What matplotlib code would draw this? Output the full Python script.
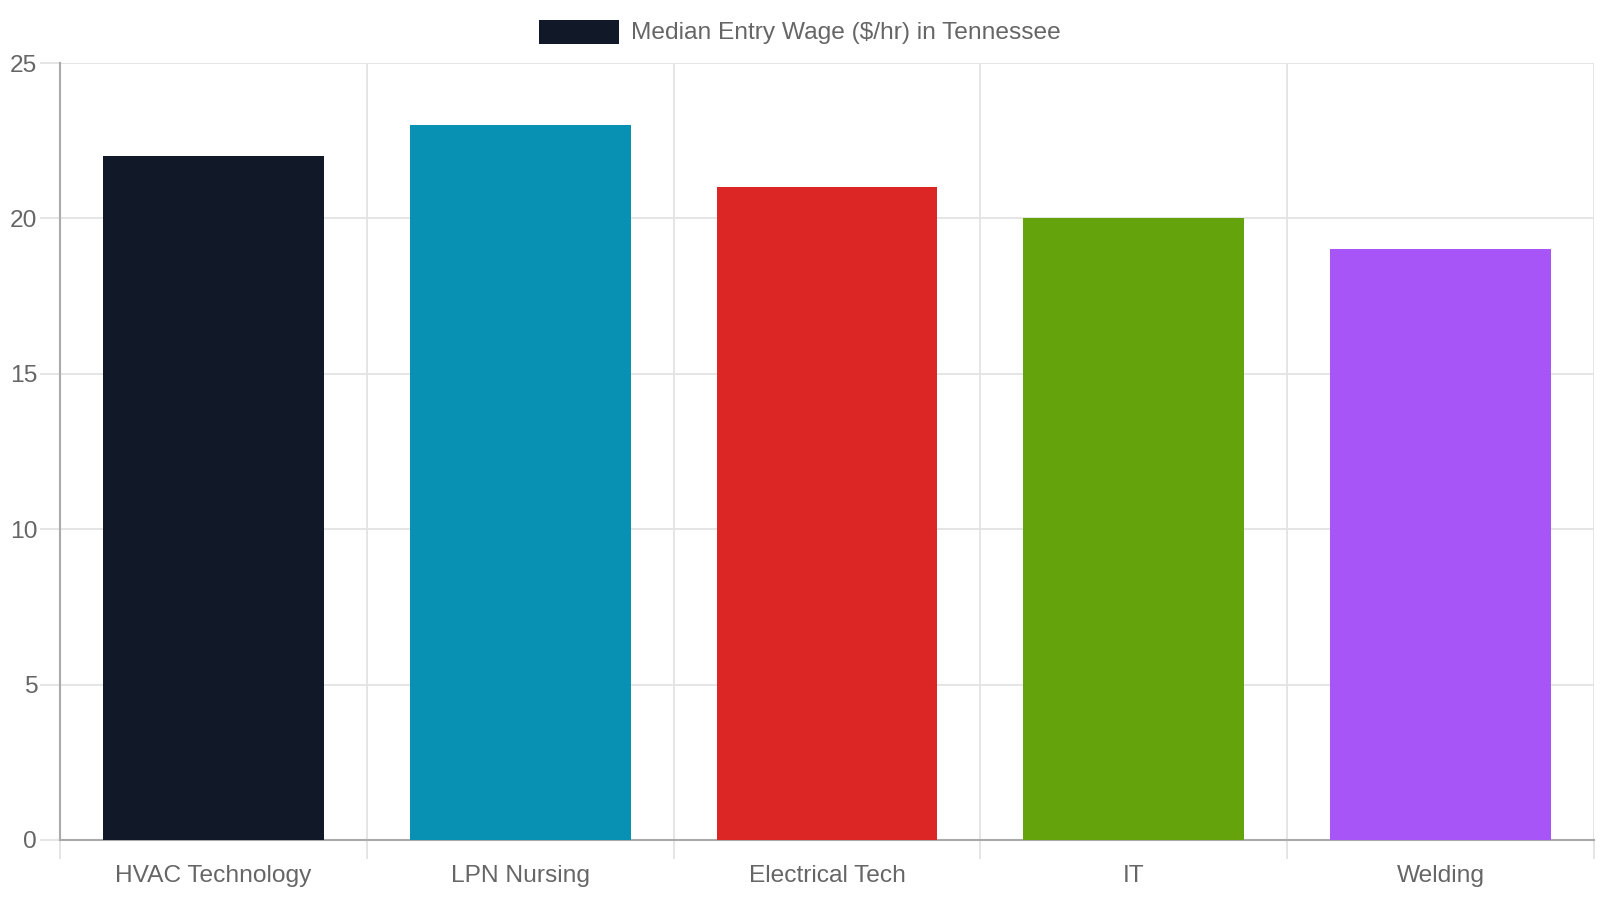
import matplotlib
matplotlib.use("Agg")
import matplotlib.pyplot as plt
from matplotlib.patches import Rectangle
from matplotlib.ticker import FixedLocator

categories = ["HVAC Technology", "LPN Nursing", "Electrical Tech", "IT", "Welding"]
values = [22, 23, 21, 20, 19]
colors = ["#111827", "#0891b2", "#dc2626", "#65a30d", "#a855f7"]
series_label = "Median Entry Wage ($/hr) in Tennessee"
y_ticks = [0, 5, 10, 15, 20, 25]

plt.rcParams["font.family"] = ["Liberation Sans", "DejaVu Sans"]
W, H = 1600, 900
fig = plt.figure(figsize=(16, 9), dpi=100)
ax = fig.add_axes([60 / W, (H - 840) / H, 1534 / W, 777 / H])

x = list(range(len(categories)))
ax.bar(x, values, width=0.72, color=colors, linewidth=0, zorder=3)

ax.set_xlim(-0.5, len(categories) - 0.5)
ax.set_ylim(0, 25)
ax.set_yticks(y_ticks)
ax.set_xticks(x)
ax.set_xticklabels(categories)
ax.xaxis.set_minor_locator(FixedLocator([i - 0.5 for i in range(len(categories) + 1)]))

grid_c = "#e3e3e3"
axis_c = "#aaaaaa"
text_c = "#666666"
px = 72 / 100

ax.grid(axis="y", color=grid_c, linewidth=1.3, zorder=0)
ax.grid(axis="x", which="minor", color=grid_c, linewidth=1.3, zorder=0)
ax.grid(axis="x", which="major", visible=False)

for s in ["top", "right"]:
    ax.spines[s].set_visible(False)
ax.spines["left"].set_color(axis_c)
ax.spines["bottom"].set_color(axis_c)
ax.spines["left"].set_linewidth(1.5)
ax.spines["bottom"].set_linewidth(1.5)

ax.tick_params(axis="y", length=20 * px, width=1.3, color=grid_c, pad=2,
               labelsize=24.5 * px, labelcolor=text_c)
ax.tick_params(axis="x", which="major", length=0, pad=25 * px,
               labelsize=24.5 * px, labelcolor=text_c)
ax.tick_params(axis="x", which="minor", length=19 * px, width=1.3, color=grid_c)

# Legend
fig.patches.append(Rectangle((539 / W, 1 - 44 / H), 80 / W, 24 / H,
                             transform=fig.transFigure, facecolor=colors[0],
                             edgecolor="none"))
fig.text(631 / W, 1 - 33.5 / H, series_label, fontsize=24.5 * px, color=text_c,
         va="center", ha="left")

fig.savefig("out.png", dpi=100, facecolor="white")
